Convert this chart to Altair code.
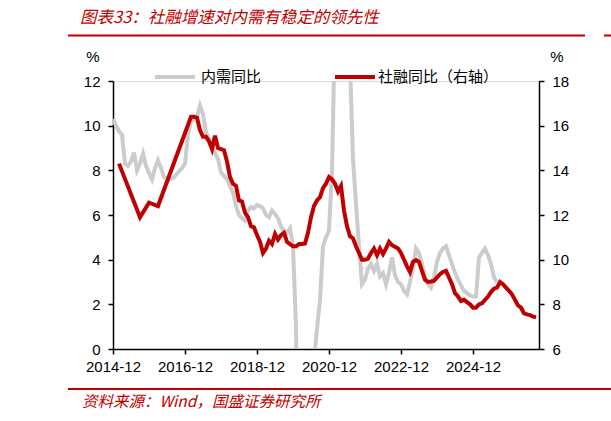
import altair as alt
import pandas as pd

# ---------------- data ----------------
months = [p.strftime("%Y-%m") for p in pd.period_range("2014-12", "2026-09", freq="M")]
tick_labels = ["2014-12", "2016-12", "2018-12", "2020-12", "2022-12", "2024-12"]

# 内需同比 (left axis, %), 2014-12 onward
neixu = [
    10.3, 10.0, 9.75, 9.6, 8.3, 8.2, 8.4, 8.8, 8.0, 8.3,
    8.75, 8.2, 7.9, 7.6, 8.1, 8.45, 8.1, 7.7, 7.65, 7.6,
    7.65, 7.8, 7.95, 8.1, 8.3, 9.6, 10.2, 10.3, 10.4, 10.9,
    10.5, 9.7, 9.4, 9.1, 8.8, 8.5, 7.9, 7.75, 7.6, 7.3,
    7.0, 6.4, 6.0, 5.85, 5.75, 6.2, 6.35, 6.3, 6.45, 6.4,
    6.3, 6.0, 5.9, 6.2, 6.05, 5.85, 5.5, 5.25, 5.2, 5.4,
    4.6, 1.0, -8.0, -12.0, -9.0, -6.0, -3.0, -0.5, 0.9, 2.2,
    4.6, 5.0, 5.3, 8.0, 14.5, 22.0, 25.0, 20.0, 16.0, 12.8,
    8.5, 6.5, 4.6, 2.9, 3.1, 3.6, 3.8, 3.5, 3.8, 3.25,
    3.4, 2.9, 3.4, 4.1, 3.3, 3.0, 2.9, 2.6, 2.45, 3.0,
    3.6, 4.5, 4.3, 3.8, 3.3, 2.9, 2.75, 3.2, 3.9, 4.3,
    4.5, 4.6, 4.2, 3.8, 3.4, 3.1, 2.85, 2.6, 2.5, 2.4,
    2.35, 2.35, 4.1, 4.3, 4.5, 4.2, 3.8, 3.2, 3.0,
]

# 社融同比 (right axis, %), 2014-12 onward; None = no point
shehui = [
    None, None, 14.3, None, None, None, None, None, None, 11.9,
    None, None, 12.55, None, None, 12.4, None, None, None, None,
    None, None, None, None, None, None, 16.4, 16.4, 16.35, 15.8,
    15.5, 15.5, 15.3, 14.95, 15.55, 15.0, 14.95, 14.9, 14.4, 13.7,
    13.4, 13.3, 12.65, 12.6, 12.1, 11.9, 11.5, 11.45, 11.1, 10.8,
    10.3, 10.5, 10.85, 10.7, 11.15, 10.9, 11.1, 11.2, 10.8, 10.7,
    10.6, 10.6, 10.7, 10.7, 10.72, 11.2, 11.9, 12.4, 12.65, 12.8,
    13.2, 13.4, 13.7, 13.6, 13.4, 13.05, 13.3, 12.2, 11.5, 11.05,
    10.95, 10.6, 10.3, 10.0, 10.0, 10.05, 10.3, 10.5, 10.2, 10.5,
    10.25, 10.5, 10.8, 10.65, 10.58, 10.5, 10.3, 10.0, 9.7, 9.45,
    9.9, 9.98, 9.9, 9.5, 9.1, 9.0, 9.02, 9.05, 9.2, 9.35,
    9.45, 9.5, 9.2, 8.9, 8.5, 8.35, 8.15, 8.2, 8.1, 8.0,
    7.85, 7.85, 8.0, 8.05, 8.2, 8.35, 8.55, 8.7, 8.75, 9.0,
    8.9, 8.75, 8.6, 8.45, 8.2, 7.95, 7.85, 7.6, 7.55, 7.52,
    7.45, 7.42,
]

title_text = "图表33：社融增速对内需有稳定的领先性"
source_text = "资料来源：Wind，国盛证券研究所"
legend_gray = "内需同比"
legend_red = "社融同比（右轴）"

RED = "#C00000"
GRAY = "#CCCCCC"
W, H = 426, 268

gray_df = pd.DataFrame({"idx": range(len(neixu)), "month": months[:len(neixu)], "v": neixu})
red_df = pd.DataFrame({"idx": range(len(shehui)), "month": months[:len(shehui)], "v": shehui}).dropna()

tick_vals = [months.index(t) for t in tick_labels]
label_expr = "{" + ",".join(f"'{v}':'{t}'" for v, t in zip(tick_vals, tick_labels)) + "}[''+datum.value]"

x_enc = alt.X(
    "idx:Q",
    scale=alt.Scale(domain=[0, len(months)], nice=False, zero=False),
    axis=alt.Axis(
        values=tick_vals, labelExpr=label_expr, title=None, grid=False,
        domainColor="black", domainWidth=1.5, tickColor="black", tickWidth=1.5,
        tickSize=5, labelFontSize=15, labelFont="Liberation Sans", labelColor="black",
        labelPadding=5, labelFlush=False, labelOverlap=False,
    ),
)

gray_line = alt.Chart(gray_df).mark_line(color=GRAY, strokeWidth=4, clip=True).encode(
    x=x_enc,
    y=alt.Y(
        "v:Q",
        scale=alt.Scale(domain=[0, 12], nice=False),
        axis=alt.Axis(
            orient="left", values=[0, 2, 4, 6, 8, 10, 12], title=None, grid=False,
            domainColor="black", domainWidth=1.5, tickColor="black", tickWidth=1.5,
            tickSize=5, labelFontSize=15, labelFont="Liberation Sans", labelColor="black",
            labelPadding=8,
        ),
    ),
)

red_line = alt.Chart(red_df).mark_line(color=RED, strokeWidth=4, clip=True).encode(
    x=x_enc,
    y=alt.Y(
        "v:Q",
        scale=alt.Scale(domain=[6, 18], nice=False, zero=False),
        axis=alt.Axis(
            orient="right", values=[6, 8, 10, 12, 14, 16, 18], title=None, grid=False,
            domainColor="black", domainWidth=1.5, tickColor="black", tickWidth=1.5,
            tickSize=5, labelFontSize=15, labelFont="Liberation Sans", labelColor="black",
            labelPadding=8,
        ),
    ),
)

one = pd.DataFrame({"a": [0]})


def text_layer(txt, x, y, size, color="black", align="left", italic=False, font="Noto Sans CJK SC"):
    kw = dict(align=align, baseline="middle", fontSize=size, color=color, font=font)
    if italic:
        kw["fontStyle"] = "italic"
    return alt.Chart(pd.DataFrame({"t": [txt]})).mark_text(**kw).encode(
        text="t:N", x=alt.value(x), y=alt.value(y)
    )


def rule_layer(x1, x2, y, color, width):
    return alt.Chart(one).mark_rule(color=color, strokeWidth=width).encode(
        x=alt.value(x1), x2=alt.value(x2), y=alt.value(y)
    )


title = text_layer(title_text, -33, -63, 16.5, RED, italic=True)
title_rule = rule_layer(-45, 472, -45.5, RED, 2)
title_rule2 = rule_layer(491, 498, -45.5, RED, 2)
source = text_layer(source_text, -31, 321, 15.5, RED, italic=True)
source_rule = rule_layer(-45, 498, 308, RED, 2)

pct_left = text_layer("%", -20, -24, 15, font="Liberation Sans", align="center")
pct_right = text_layer("%", 444, -24, 15, font="Liberation Sans", align="center")

leg_gray_rule = rule_layer(42, 82, -4, GRAY, 4)
leg_gray_text = text_layer(legend_gray, 88, -4, 15)
leg_red_rule = rule_layer(222, 262, -4, RED, 4)
leg_red_text = text_layer(legend_red, 265, -4, 15)

lines = alt.layer(gray_line, red_line).resolve_scale(y="independent")

chart = alt.layer(
    lines,
    title, title_rule, title_rule2, source, source_rule,
    pct_left, pct_right,
    leg_gray_rule, leg_gray_text, leg_red_rule, leg_red_text,
).properties(
    width=W, height=H,
    autosize=alt.AutoSizeParams(type="none"),
    padding={"left": 113, "top": 81, "right": 72, "bottom": 72},
).configure_view(strokeWidth=0).configure(background="white")

chart.save("out.html", embed_options={"renderer": "svg", "actions": False})
